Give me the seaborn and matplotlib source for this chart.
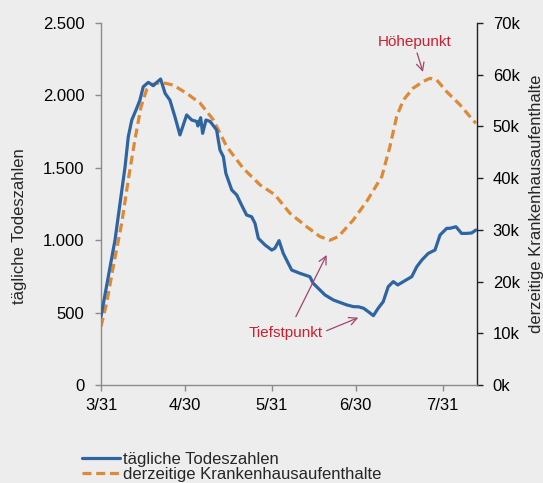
import matplotlib
matplotlib.use("Agg")
import matplotlib.pyplot as plt
import seaborn as sns
import pandas as pd
from matplotlib.lines import Line2D

sns.set_style("white")
plt.rcParams['font.family'] = ['Liberation Sans', 'DejaVu Sans']

# ---- data (day index from 3/31) ----
death_days = [0, 2.6, 5, 6.8, 8.6, 9.75, 11, 12.75, 13.9, 15.1, 16.9, 18.7, 19.8, 21.3, 22.9,
              24.6, 26.4, 28.2,
              30.6, 32.4, 34.2, 34.6, 35.6, 36.3, 37.5, 39, 41.3, 42.5, 43.7, 44.6, 46.7,
              48.5, 50.2, 52, 53.8, 55, 56.2, 58.6, 61, 62.1, 63.6, 65.1, 68.1, 71.1, 74.6,
              75.8, 80, 83, 87.8, 90.2, 92, 93.8, 95.5, 97.3, 99, 100.8, 102.6, 104.4, 106,
              108, 111, 112.8, 114.6, 116.9, 119.3, 121.1, 123.5, 124.6, 126.8, 128.8, 130.6,
              132.4, 133.9]
deaths = [472, 748, 1001, 1255, 1508, 1715, 1830, 1911, 1968, 2060, 2090, 2067, 2088, 2113, 2014,
          1968, 1853, 1727,
          1865, 1830, 1820, 1789, 1846, 1738, 1830, 1820, 1761, 1623, 1577, 1462, 1347,
          1312, 1243, 1174, 1162, 1117, 1013, 967, 932, 944, 997, 909, 794, 771, 748,
          702, 622, 587, 553, 541, 540, 530, 506, 479, 530, 575, 679, 714, 691,
          714, 748, 817, 863, 909, 932, 1036, 1082, 1082, 1093, 1047, 1047,
          1050, 1070]

hosp_days = [0, 2, 4.6, 7.4, 9.75, 12.1, 14.3, 16.3, 18.7, 21.7, 25.8, 30.6, 35.4, 40.1, 44.9,
             50.8, 56.8, 62.1, 67.5, 73.5, 78.2, 81.8, 84.8, 90.1, 94.9, 100.3, 103.2, 105.6,
             108, 111.5, 115.1, 117.5, 119.9, 123.5, 128.2, 131.8, 133.9]
hosp = [11300, 15800, 23500, 31300, 39700, 47400, 53800, 57100, 58200, 58500, 58000, 56400,
        54500, 51300, 46100, 41900, 38700, 36800, 33200, 30600, 28700, 28000, 28700, 31900,
        35500, 40300, 46100, 51900, 55100, 57400, 58700, 59300, 59000, 56700, 54200, 51900,
        50600]

tick_days = [0, 30, 61, 91, 122]
tick_labels = ['3/31', '4/30', '5/31', '6/30', '7/31']
left_ticks = [0, 500, 1000, 1500, 2000, 2500]
left_labels = ['0', '500', '1.000', '1.500', '2.000', '2.500']
right_ticks = [0, 10000, 20000, 30000, 40000, 50000, 60000, 70000]
right_labels = ['0k', '10k', '20k', '30k', '40k', '50k', '60k', '70k']

label_deaths = 'tägliche Todeszahlen'
label_hosp = 'derzeitige Krankenhausaufenthalte'

df_d = pd.DataFrame({'day': death_days, 'val': deaths})
df_h = pd.DataFrame({'day': hosp_days, 'val': hosp})

BLUE = '#2E64A2'
ORANGE = '#DD8A36'
BG = '#EDEDED'
RED = '#CC1F2F'
ARROW = '#A0456E'
FS = 12

fig = plt.figure(figsize=(5.43, 4.83), dpi=100, facecolor=BG)
ax = fig.add_axes([101/543, 1 - 385/483, 375.7/543, 362/483])
ax.set_facecolor(BG)
ax2 = ax.twinx()

sns.lineplot(data=df_d, x='day', y='val', ax=ax, color=BLUE, lw=2.3, legend=False,
             solid_joinstyle='round', zorder=3)
sns.lineplot(data=df_h, x='day', y='val', ax=ax2, color=ORANGE, lw=2.3, legend=False,
             linestyle=(0, (2.8, 1.5)), dash_capstyle='butt')
ax.set_zorder(ax2.get_zorder() + 1)
ax.patch.set_visible(False)
ax2.patch.set_visible(True)
ax2.patch.set_facecolor(BG)

ax.set_xlim(0, 134.2)
ax.set_ylim(0, 2500)
ax2.set_ylim(0, 70000)

ax.set_xticks(tick_days)
ax.set_xticklabels(tick_labels, fontsize=FS)
ax.set_yticks(left_ticks)
ax.set_yticklabels(left_labels, fontsize=FS)
ax2.set_yticks(right_ticks)
ax2.set_yticklabels(right_labels, fontsize=FS)

for a in (ax, ax2):
    for s in a.spines.values():
        s.set_visible(False)
ax.spines['left'].set_visible(True)
ax.spines['bottom'].set_visible(True)
ax.spines['left'].set_color('#8C8C8C')
ax.spines['bottom'].set_color('#8C8C8C')
ax2.spines['right'].set_visible(True)
ax2.spines['right'].set_color('#222222')
for sp in ('left', 'bottom'):
    ax.spines[sp].set_linewidth(1.0)
ax2.spines['right'].set_linewidth(1.0)

ax.tick_params(axis='y', direction='out', length=4.3, width=1, color='#8C8C8C', pad=7.5,
               labelcolor='black', left=True)
ax.tick_params(axis='x', direction='out', length=4, width=1, color='#8C8C8C', pad=5,
               labelcolor='black', bottom=True)
ax2.tick_params(axis='y', direction='out', length=4, width=1, color='#222222', pad=7.5,
                labelcolor='black', right=True)

ax.set_xlabel('')
ax.set_ylabel(label_deaths, fontsize=FS, va='center', ha='center')
ax.yaxis.set_label_coords(-0.2156, 0.438)
ax2.set_ylabel(label_hosp, fontsize=FS, va='center', ha='center', rotation=90)
ax2.yaxis.set_label_coords(1.1597, 0.5)

# annotations (in data coordinates of the left axis)
ax.text(66.1, 359, 'Tiefstpunkt', color=RED, fontsize=11, ha='center', va='center', zorder=5)
ax.annotate('', xy=(80.6, 898), xytext=(69.6, 472),
            arrowprops=dict(arrowstyle='->', color=ARROW, lw=0.9, mutation_scale=14,
                            shrinkA=0, shrinkB=0), zorder=5)
ax.annotate('', xy=(91.9, 465), xytext=(80.6, 375),
            arrowprops=dict(arrowstyle='->', color=ARROW, lw=0.9, mutation_scale=14,
                            shrinkA=0, shrinkB=0), zorder=5)
ax.text(112, 2369, 'Höhepunkt', color=RED, fontsize=11, ha='center', va='center', zorder=5)
ax.annotate('', xy=(115.0, 2162), xytext=(112.9, 2293),
            arrowprops=dict(arrowstyle='->', color=ARROW, lw=0.9, mutation_scale=14,
                            shrinkA=0, shrinkB=0), zorder=5)

handles = [Line2D([], [], color=BLUE, lw=2.3),
           Line2D([], [], color=ORANGE, lw=2.3, linestyle=(0, (2.8, 1.5)), dash_capstyle='butt')]
fig.legend(handles, [label_deaths, label_hosp], loc='center left',
           bbox_to_anchor=(81.7/543, 1 - 466.8/483), frameon=False, fontsize=FS,
           borderpad=0, borderaxespad=0, handlelength=2.3, handletextpad=0.2,
           labelspacing=0.0)

fig.savefig('out.png', dpi=100, facecolor=BG)
